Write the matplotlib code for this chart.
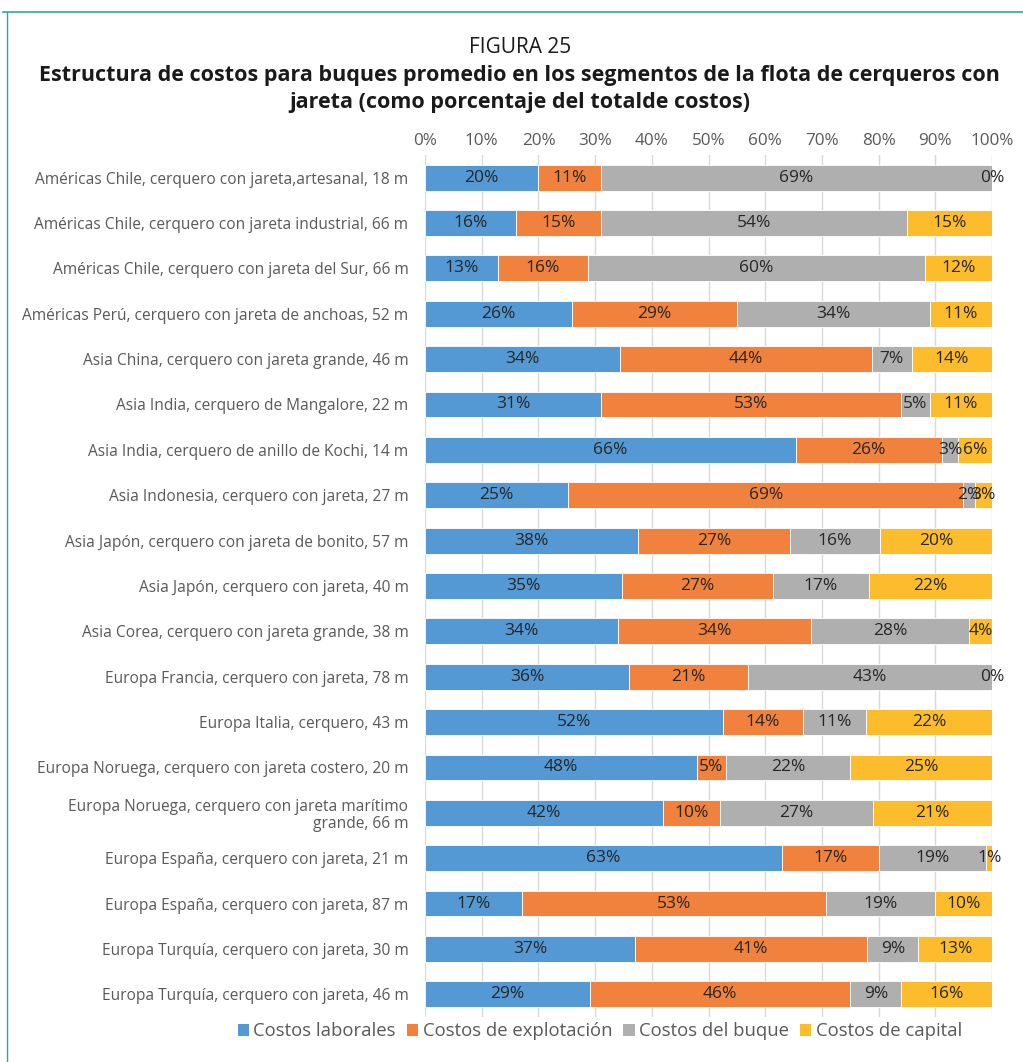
import matplotlib
matplotlib.use('Agg')
import matplotlib.pyplot as plt
import numpy as np
from matplotlib.lines import Line2D
from matplotlib.patches import Patch

plt.rcParams['font.family'] = ['Open Sans', 'DejaVu Sans']

vessels = [
    "Américas Chile, cerquero con jareta,artesanal, 18 m",
    "Américas Chile, cerquero con jareta industrial, 66 m",
    "Américas Chile, cerquero con jareta del Sur, 66 m",
    "Américas Perú, cerquero con jareta de anchoas, 52 m",
    "Asia China, cerquero con jareta grande, 46 m",
    "Asia India, cerquero de Mangalore, 22 m",
    "Asia India, cerquero de anillo de Kochi, 14 m",
    "Asia Indonesia, cerquero con jareta, 27 m",
    "Asia Japón, cerquero con jareta de bonito, 57 m",
    "Asia Japón, cerquero con jareta, 40 m",
    "Asia Corea, cerquero con jareta grande, 38 m",
    "Europa Francia, cerquero con jareta, 78 m",
    "Europa Italia, cerquero, 43 m",
    "Europa Noruega, cerquero con jareta costero, 20 m",
    "Europa Noruega, cerquero con jareta marítimo\ngrande, 66 m",
    "Europa España, cerquero con jareta, 21 m",
    "Europa España, cerquero con jareta, 87 m",
    "Europa Turquía, cerquero con jareta, 30 m",
    "Europa Turquía, cerquero con jareta, 46 m",
]

laborales = [20, 16, 13, 26, 34, 31, 66, 25, 38, 35, 34, 36, 52, 48, 42, 63, 17, 37, 29]
explotacion = [11, 15, 16, 29, 44, 53, 26, 69, 27, 27, 34, 21, 14, 5, 10, 17, 53, 41, 46]
buque = [69, 54, 60, 34, 7, 5, 3, 2, 16, 17, 28, 43, 11, 22, 27, 19, 19, 9, 9]
capital = [0, 15, 12, 11, 14, 11, 6, 3, 20, 22, 4, 0, 22, 25, 21, 1, 10, 13, 16]

series_names = ["Costos laborales", "Costos de explotación", "Costos del buque", "Costos de capital"]
colors = ["#5499d3", "#f0823d", "#afafaf", "#fdbc2c"]

data = np.array([laborales, explotacion, buque, capital], dtype=float)
# 100% stacked: each row scaled to its own total
shares = data / data.sum(axis=0) * 100

fig = plt.figure(figsize=(10.23, 10.62), dpi=100)
ax = fig.add_axes([0.4155, 0.0424, 0.5543, 0.8117])

y = np.arange(len(vessels))
left = np.zeros(len(vessels))
for vals, share, col in zip(data, shares, colors):
    ax.barh(y, share, left=left, height=0.57, color=col, edgecolor='white', linewidth=0.6, zorder=3)
    for yi, l, s, v in zip(y, left, share, vals):
        ax.text(l + s / 2, yi, f"{int(v)}%", ha='center', va='center',
                fontsize=12.5, color='#262626', zorder=4)
    left += share

ax.set_xlim(0, 100)
ax.set_ylim(len(vessels) - 0.5, -0.5)
ax.set_yticks(y)
ax.set_yticklabels(vessels, fontsize=11.2, color='#595959', linespacing=1.1)
ax.set_xticks(np.arange(0, 101, 10))
ax.set_xticklabels([f"{t}%" for t in range(0, 101, 10)], fontsize=12.3, color='#595959')
ax.xaxis.tick_top()
ax.tick_params(axis='both', length=0)
ax.tick_params(axis='y', pad=12)
ax.tick_params(axis='x', pad=4)
ax.grid(axis='x', color='#d9d9d9', linewidth=1, zorder=0)
for sp in ax.spines.values():
    sp.set_visible(False)

fig.text(0.508, 0.955, "FIGURA 25", ha='center', va='center', fontsize=15, color='#1a1a1a')
fig.text(0.508, 0.916, "Estructura de costos para buques promedio en los segmentos de la flota de cerqueros con\n"
         "jareta (como porcentaje del totalde costos)", ha='center', va='center', fontsize=15.5,
         fontweight='bold', color='#1a1a1a', linespacing=1.38)

handles = [Patch(facecolor=c, edgecolor='none') for c in colors]
fig.legend(handles, series_names, loc='center', bbox_to_anchor=(0.5865, 0.029), ncol=4, frameon=False,
           fontsize=13.3, handlelength=0.6, handleheight=0.6, handletextpad=0.25, columnspacing=0.6,
           labelcolor='#595959')

# frame lines around the figure
fig.add_artist(Line2D([0.003, 1.0], [0.989, 0.989], transform=fig.transFigure, color='#2aa9a3', linewidth=1.2))
fig.add_artist(Line2D([0.007, 0.007], [0.0, 0.989], transform=fig.transFigure, color='#2aa9a3', linewidth=1.0))

fig.savefig('out.png', dpi=100, facecolor='white')
